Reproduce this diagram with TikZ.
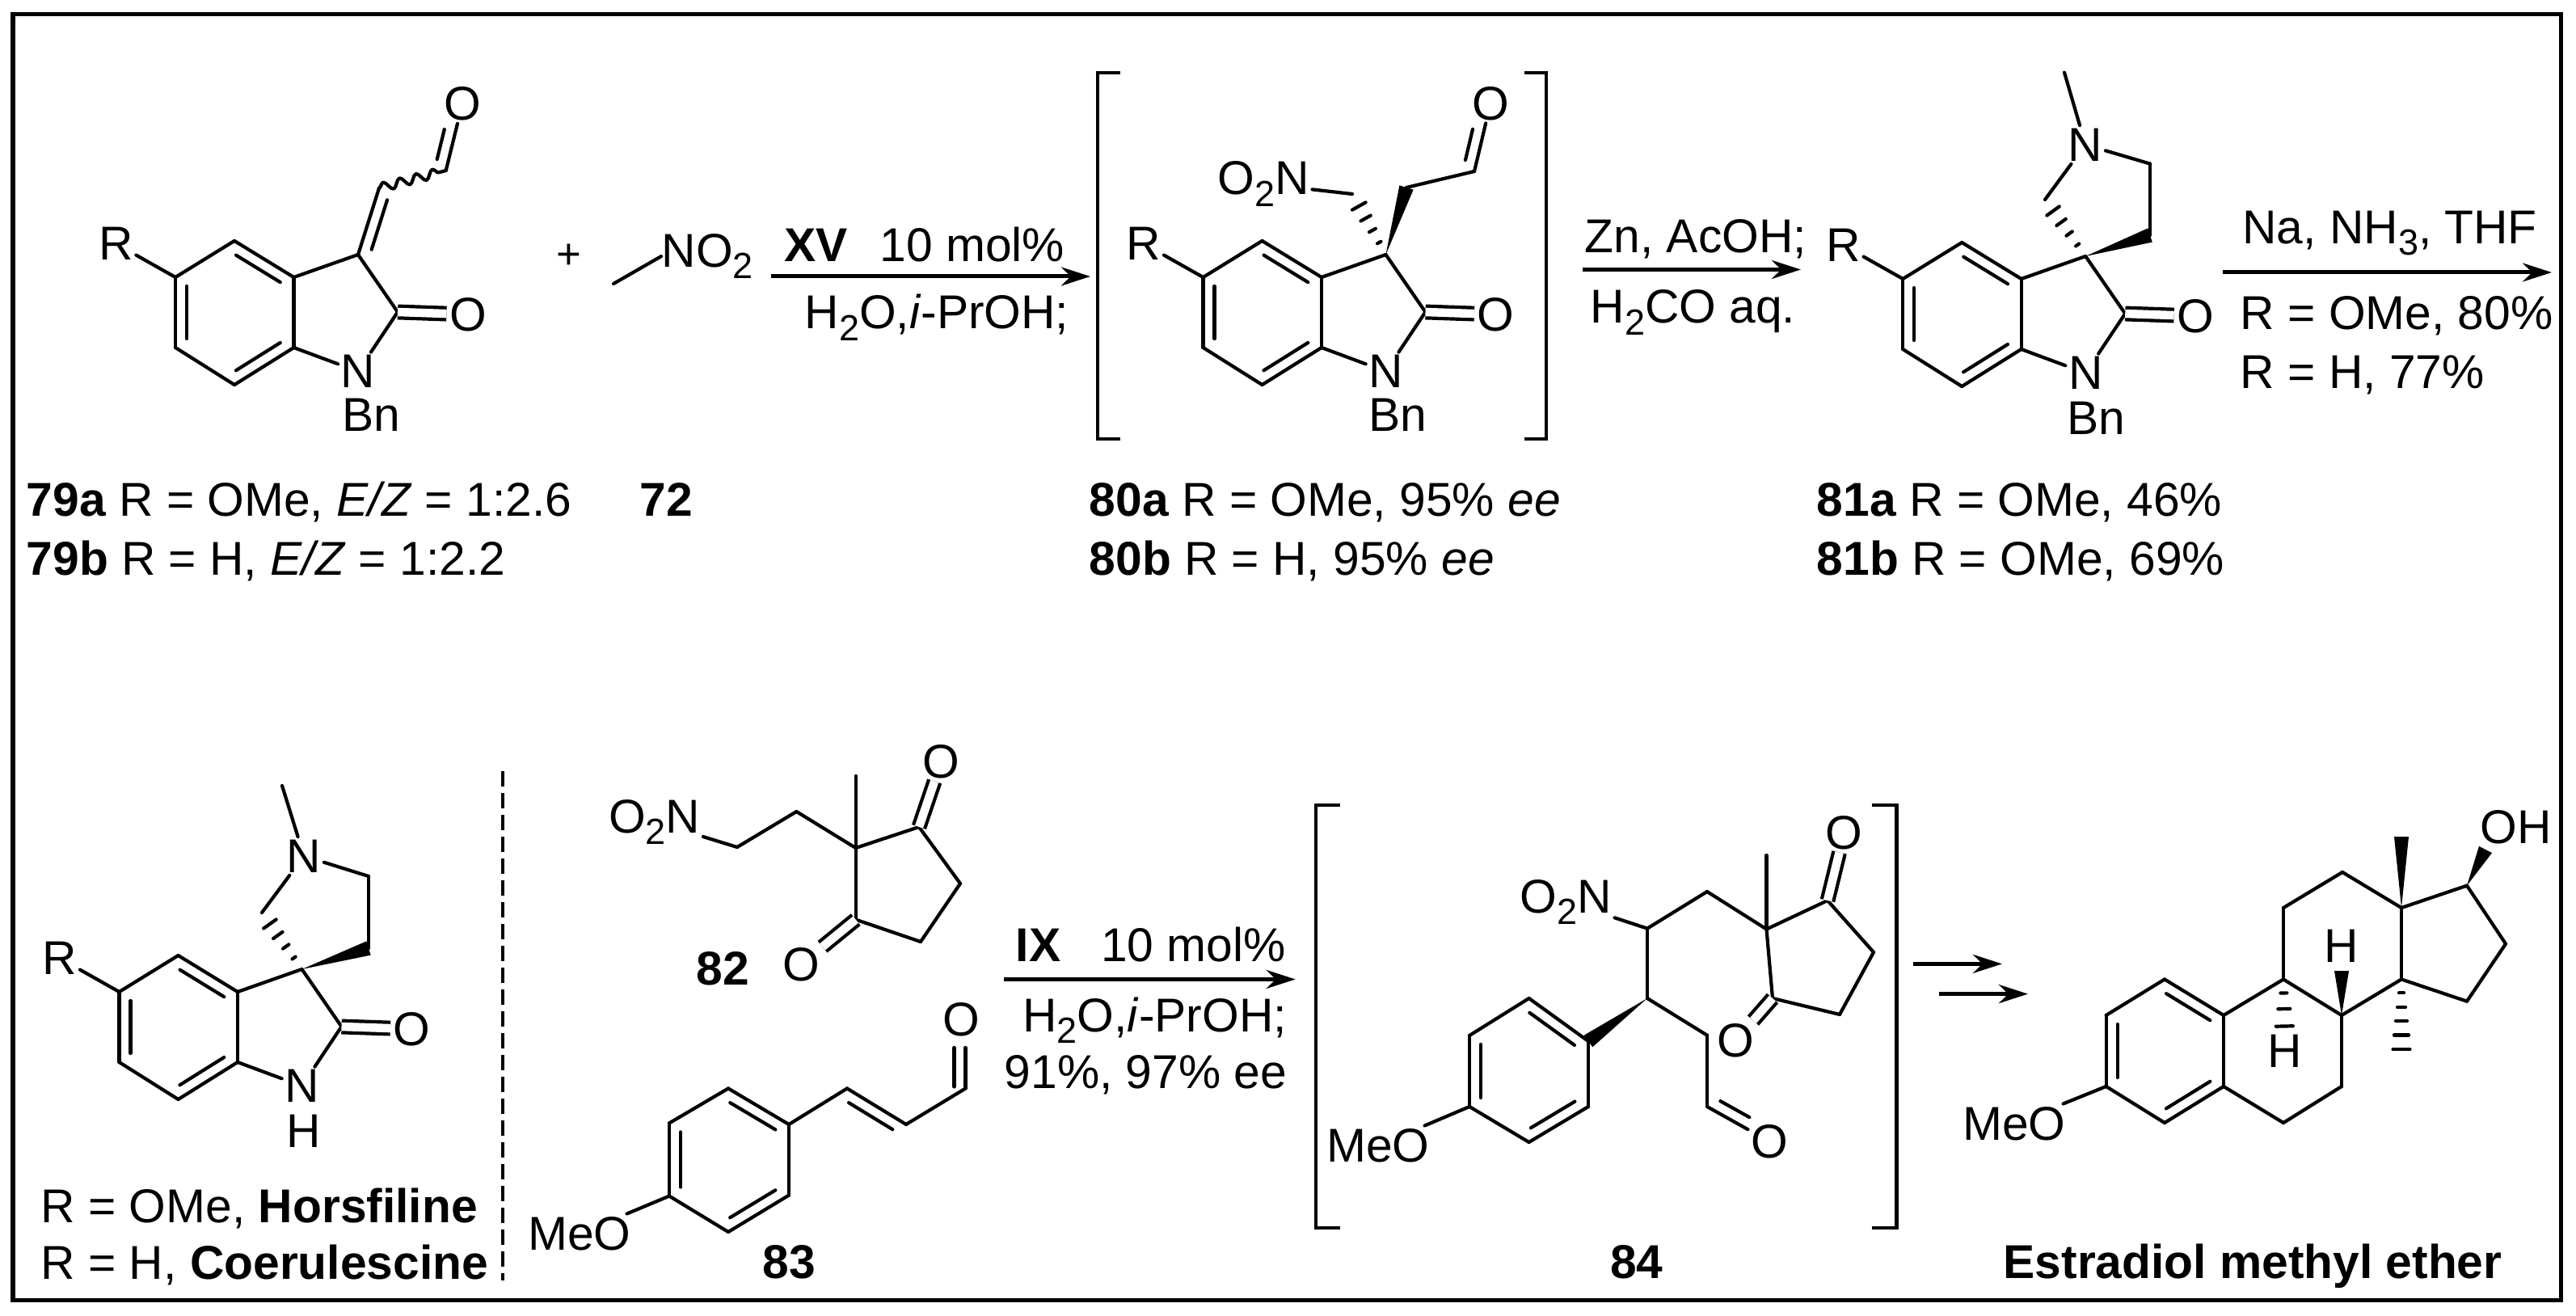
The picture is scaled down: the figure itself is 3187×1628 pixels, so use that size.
\documentclass[tikz,border=0pt]{standalone}
\usepackage{fontspec}
\setmainfont{Liberation Sans}
\usetikzlibrary{arrows.meta,calc,decorations.pathmorphing}
\newcommand{\chemfont}{\fontsize{16.7}{20}\selectfont}
\newcommand{\sbs}[1]{\raisebox{-4pt}{\fontsize{12.8}{13}\selectfont #1}}
\newcommand{\bondgap}{0.14cm}
\newcommand{\wedgew}{0.09cm}
\tikzset{
  bond/.style={line width=0.042cm,line cap=round,line join=round},
  dbl/.style={bond,double,double distance=0.105cm,line cap=butt},
  innerbond/.style={bond,shorten <=0.11cm,shorten >=0.11cm},
  rxnarrow/.style={line width=0.05cm,-{Stealth[length=0.36cm,width=0.23cm]}},
  brk/.style={line width=0.047cm},
  lab/.style={anchor=base west,inner sep=0pt},
}
\newcommand{\innerbond}[3][]{%
  \draw[innerbond,#1] ($(#2)!\bondgap!90:(#3)$) to ($(#3)!\bondgap!-90:(#2)$);}
\newcommand{\wedgebond}[2]{%
  \fill ($(#2)!\wedgew!90:(#1)$) -- (#1) -- ($(#2)!\wedgew!-90:(#1)$) -- cycle;}
\newcommand{\hashbond}[3][0.2/0.025cm,0.4/0.045cm,0.6/0.07cm,0.8/0.095cm]{%
  \foreach \t/\w in {#1}{%
    \coordinate (hs) at ($(#2)!\t!(#3)$);
    \draw[bond] ($(hs)!\w!90:(#2)$) to ($(hs)!\w!-90:(#2)$);
  }}
\newcommand{\oxindole}[3]{%
  \begin{scope}[shift={(#2,#3)},name prefix=#1]
    \draw
      (143.5,301.5) node (r){R}
      (217,343) coordinate (c5)
      (290,298) coordinate (c4)
      (363.5,343) coordinate (c3a)
      (363.5,430) coordinate (c7a)
      (290,476) coordinate (c7)
      (217,430) coordinate (c6)
      (443,315) coordinate (c3)
      (492,386) coordinate (c2)
      (443,459.5) node (n1){N}
      (579,389) node (o2){O};
    \begin{scope}[bond]
      \draw (r) to (c5);
      \draw (c5) to (c6);
      \draw (c6) to (c7);
      \draw (c7) to (c7a);
      \draw (c7a) to (c3a);
      \draw (c3a) to (c4);
      \draw (c4) to (c5);
      \draw (c3a) to (c3);
      \draw (c3) to (c2);
      \draw (c2) to (n1);
      \draw (n1) to (c7a);
    \end{scope}
    \draw[dbl] (c2) to (o2);
    \innerbond{c5}{c6}
    \innerbond{c7}{c7a}
    \innerbond{c3a}{c4}
  \end{scope}}
\begin{document}
\begin{tikzpicture}[x=0.01cm,y=-0.01cm,every node/.style={inner sep=0.03cm,font=\chemfont}]
  \path[use as bounding box,fill=white] (0,0) rectangle (3187,1628);
  \draw[line width=0.05cm] (16,18) rectangle (3168,1608);
  % first row
  \oxindole{a-}{0}{0}
  \oxindole{b-}{1271.5}{0}
  \oxindole{c-}{2137.2}{2}
  \draw
    (459,513) node (a-bn){Bn}
    (469,232.7) coordinate (a-exo)
    (551.7,211) coordinate (a-cho)
    (572,128.4) node (a-o3){O}
    (704,317.5) node[font=\fontsize{15}{15}\selectfont] (plus){+}
    (759,351) coordinate (me72)
    (818,330.6) node[lab] (no72){NO\sbs{2}}
    (1729.6,513) node (b-bn){Bn}
    (1740,232) coordinate (b-ch2)
    (1824,212) coordinate (b-cho)
    (1844,128) node (b-o3){O}
    (1673,240) coordinate (b-ch2n)
    (1503,241) node[lab,inner sep=0.03cm] (b-no){O\sbs{2}N}
    (2593.6,517.6) node (c-bn){Bn}
    (2660,291) coordinate (c-c4)
    (2660,202.6) coordinate (c-c5)
    (2580,179) node (c-n2){N}
    (2554,89.7) coordinate (c-me)
    (2530,247) coordinate (c-c2);
  \begin{scope}[bond]
    \draw (a-c3) to (a-exo);
    \draw (a-cho) to (a-o3);
    \draw[decorate,decoration={snake,amplitude=0.055cm,segment length=0.21cm}] (a-exo) to (a-cho);
    \draw (me72) to (no72.west);
    \draw (b-ch2) to (b-cho);
    \draw (b-cho) to (b-o3);
    \draw (b-no) to (b-ch2n);
    \draw (c-c4) to (c-c5);
    \draw (c-c5) to (c-n2);
    \draw (c-n2) to (c-me);
    \draw (c-n2) to (c-c2);
  \end{scope}
  \innerbond{a-exo}{a-c3}
  \innerbond[shorten >=0.36cm]{a-cho}{a-o3}
  \innerbond[shorten >=0.36cm]{b-cho}{b-o3}
  \wedgebond{b-c3}{b-ch2}
  \hashbond{b-c3}{b-ch2n}
  \wedgebond{c-c3}{c-c4}
  \hashbond{c-c3}{c-c2}
  \draw[brk] (1386,90) -- (1358,90) -- (1358,543) -- (1386,543);
  \draw[brk] (1886,90) -- (1913,90) -- (1913,543) -- (1886,543);
  \draw
    (953.5,342) coordinate (a1s) (1349,342) coordinate (a1e)
    (1957.6,333.5) coordinate (a2s) (2228,333.5) coordinate (a2e)
    (2749.5,337) coordinate (a3s) (3157,337) coordinate (a3e);
  \draw[rxnarrow] (a1s) to (a1e);
  \draw[rxnarrow] (a2s) to (a2e);
  \draw[rxnarrow] (a3s) to (a3e);
  \draw
    (969.5,324) node[lab] (xv){\textbf{XV}}
    (1088,324) node[lab] (xvmol){10 mol\%}
    (995,407) node[lab] (xvsolv){H\sbs{2}O,\textit{i}-PrOH;}
    (1960,312.6) node[lab] (zn){Zn, AcOH;}
    (1967,400) node[lab] (hcho){H\sbs{2}CO aq.}
    (2773.8,301.5) node[lab] (na){Na, NH\sbs{3}, THF}
    (2771,408) node[lab] (yome){R = OMe, 80\%}
    (2771,481) node[lab] (yh){R = H, 77\%}
    (32,639) node[lab] (l79a){\textbf{79a} R = OMe, \textit{E/Z} = 1:2.6}
    (32,711.5) node[lab] (l79b){\textbf{79b} R = H, \textit{E/Z} = 1:2.2}
    (791,639) node[lab] (l72){\textbf{72}}
    (1347,639) node[lab] (l80a){\textbf{80a} R = OMe, 95\% \textit{ee}}
    (1347,711.5) node[lab] (l80b){\textbf{80b} R = H, 95\% \textit{ee}}
    (2247,639) node[lab] (l81a){\textbf{81a} R = OMe, 46\%}
    (2247,711.5) node[lab] (l81b){\textbf{81b} R = OMe, 69\%};
  % second row
  \oxindole{d-}{-69.5}{884}
  \draw
    (376,1399) node (d-h){H}
    (456,1173) coordinate (d-c4)
    (456,1084) coordinate (d-c5)
    (376,1059) node (d-n2){N}
    (349,972) coordinate (d-me)
    (324,1129) coordinate (d-c2)
    (50,1512) node[lab] (lhor){R = OMe, \textbf{Horsfiline}}
    (50,1582) node[lab] (lcoe){R = H, \textbf{Coerulescine}};
  \begin{scope}[bond]
    \draw (d-c4) to (d-c5);
    \draw (d-c5) to (d-n2);
    \draw (d-n2) to (d-me);
    \draw (d-n2) to (d-c2);
  \end{scope}
  \wedgebond{d-c3}{d-c4}
  \hashbond{d-c3}{d-c2}
  \draw[line width=0.035cm,dash pattern=on 0.19cm off 0.08cm] (622,954) -- (622,1583.6);
  % 82
  \draw
    (749.4,1030) node[lab,inner sep=0.03cm] (no82){O\sbs{2}N}
    (912,1048) coordinate (e1)
    (985.4,1004) coordinate (e2)
    (1058.7,1049) coordinate (e3)
    (1058.7,960) coordinate (eme)
    (1137,1023) coordinate (e4)
    (1164.5,942) node (eo4){O}
    (1188,1093) coordinate (e5)
    (1139,1165) coordinate (e6)
    (1058.7,1137.6) coordinate (e7)
    (991,1193) node (eo7){O};
  \begin{scope}[bond]
    \draw (no82) to (e1);
    \draw (e1) to (e2);
    \draw (e2) to (e3);
    \draw (e3) to (eme);
    \draw (e3) to (e4);
    \draw (e4) to (e5);
    \draw (e5) to (e6);
    \draw (e6) to (e7);
    \draw (e7) to (e3);
  \end{scope}
  \draw[dbl] (e4) to (eo4);
  \draw[dbl] (e7) to (eo7);
  % 83
  \draw
    (901,1346.5) coordinate (f1)
    (976,1391) coordinate (f2)
    (976,1478.6) coordinate (f3)
    (901,1524) coordinate (f4)
    (828,1479.6) coordinate (f5)
    (828,1389.4) coordinate (f6)
    (717,1526) node (fmeo){MeO}
    (1048,1346.5) coordinate (f7)
    (1121,1391) coordinate (f8)
    (1194.5,1346.5) coordinate (f9)
    (1194.5,1296) coordinate (fe)
    (1189.4,1261.6) node (fo){O};
  \begin{scope}[bond]
    \draw (f1) to (f2);
    \draw (f2) to (f3);
    \draw (f3) to (f4);
    \draw (f4) to (f5);
    \draw (f5) to (f6);
    \draw (f6) to (f1);
    \draw (fmeo) to (f5);
    \draw (f2) to (f7);
    \draw (f7) to (f8);
    \draw (f8) to (f9);
    \draw (f9) to (fe);
  \end{scope}
  \innerbond{f6}{f5}
  \innerbond{f4}{f3}
  \innerbond{f2}{f1}
  \innerbond{f8}{f7}
  \innerbond[shorten <=0.02cm,shorten >=0cm]{f9}{fe}
  \draw
    (861,1218) node[lab] (l82){\textbf{82}}
    (942.7,1581) node[lab] (l83){\textbf{83}}
    (1242,1211.5) coordinate (a4s) (1602.7,1211.5) coordinate (a4e);
  \draw[rxnarrow] (a4s) to (a4e);
  \draw
    (1256,1189) node[lab] (ix){\textbf{IX}}
    (1361.6,1189) node[lab] (ixmol){10 mol\%}
    (1264.7,1276) node[lab] (ixsolv){H\sbs{2}O,\textit{i}-PrOH;}
    (1242,1346.5) node[lab] (ixyield){91\%, 97\% ee};
  % 84
  \draw[brk] (1658,996) -- (1628,996) -- (1628,1519) -- (1658,1519);
  \draw[brk] (2315.7,996) -- (2346.7,996) -- (2346.7,1519) -- (2315.7,1519);
  \draw
    (1891.6,1235) coordinate (g1)
    (1965,1288) coordinate (g2)
    (1965,1369) coordinate (g3)
    (1891.6,1413) coordinate (g4)
    (1818,1369) coordinate (g5)
    (1818,1281) coordinate (g6)
    (1705,1417) node (gmeo){MeO}
    (2038,1235) coordinate (g7)
    (2038,1148.6) coordinate (g8)
    (1877,1129) node[lab,inner sep=0.03cm] (gno){O\sbs{2}N}
    (2112,1103) coordinate (g9)
    (2185.5,1149.5) coordinate (g10)
    (2185.5,1058) coordinate (gme)
    (2261,1114) coordinate (g11)
    (2281.6,1030) node (go11){O}
    (2318,1178) coordinate (g12)
    (2276,1255) coordinate (g13)
    (2193,1235) coordinate (g14)
    (2147.6,1287) node (go14){O}
    (2112,1280.7) coordinate (g15)
    (2112,1369) coordinate (g16)
    (2189,1412) node (go16){O};
  \begin{scope}[bond]
    \draw (g1) to (g2);
    \draw (g2) to (g3);
    \draw (g3) to (g4);
    \draw (g4) to (g5);
    \draw (g5) to (g6);
    \draw (g6) to (g1);
    \draw (gmeo) to (g5);
    \draw (g7) to (g8);
    \draw (gno) to (g8);
    \draw (g8) to (g9);
    \draw (g9) to (g10);
    \draw (g10) to (gme);
    \draw (g10) to (g11);
    \draw (g11) to (g12);
    \draw (g12) to (g13);
    \draw (g13) to (g14);
    \draw (g14) to (g10);
    \draw (g7) to (g15);
    \draw (g15) to (g16);
    \draw (g16) to (go16);
  \end{scope}
  \draw[dbl] (g11) to (go11);
  \draw[dbl] (g14) to (go14);
  \innerbond{g6}{g5}
  \innerbond{g4}{g3}
  \innerbond{g2}{g1}
  \innerbond[shorten >=0.36cm]{g16}{go16}
  \wedgebond{g7}{g2}
  \draw (1991.5,1581) node[lab] (l84){\textbf{84}};
  \draw
    (2367,1192.4) coordinate (a5s) (2477,1192.4) coordinate (a5e)
    (2399,1229.6) coordinate (a6s) (2509,1229.6) coordinate (a6e);
  \draw[rxnarrow] (a5s) to (a5e);
  \draw[rxnarrow] (a6s) to (a6e);
  % estradiol methyl ether
  \draw
    (2678,1211.5) coordinate (h1)
    (2751,1256) coordinate (h2)
    (2751,1344) coordinate (h3)
    (2678,1389) coordinate (h4)
    (2605.6,1344) coordinate (h5)
    (2605.6,1256) coordinate (h6)
    (2492,1390) node (hmeo){MeO}
    (2825,1211.5) coordinate (h7)
    (2897,1256) coordinate (h8)
    (2897,1344) coordinate (h9)
    (2825,1389) coordinate (h10)
    (2825,1123) coordinate (h11)
    (2898,1079) coordinate (h12)
    (2971,1123) coordinate (h13)
    (2971,1211.5) coordinate (h14)
    (3052,1095.6) coordinate (h15)
    (3100,1167.6) coordinate (h16)
    (3052,1238.7) coordinate (h17)
    (2971,1035) coordinate (hme)
    (2971,1300) coordinate (hme2)
    (3075,1051) coordinate (hoe)
    (3113,1023) node (hoh){OH}
    (2897,1170) node (hh1){H}
    (2897,1201) coordinate (hh1e)
    (2827,1300.7) node (hh2){H};
  \begin{scope}[bond]
    \draw (h1) to (h2);
    \draw (h2) to (h3);
    \draw (h3) to (h4);
    \draw (h4) to (h5);
    \draw (h5) to (h6);
    \draw (h6) to (h1);
    \draw (hmeo) to (h5);
    \draw (h2) to (h7);
    \draw (h7) to (h8);
    \draw (h8) to (h9);
    \draw (h9) to (h10);
    \draw (h10) to (h3);
    \draw (h7) to (h11);
    \draw (h11) to (h12);
    \draw (h12) to (h13);
    \draw (h13) to (h14);
    \draw (h14) to (h8);
    \draw (h13) to (h15);
    \draw (h15) to (h16);
    \draw (h16) to (h17);
    \draw (h17) to (h14);
  \end{scope}
  \innerbond{h6}{h5}
  \innerbond{h4}{h3}
  \innerbond{h2}{h1}
  \wedgebond{h13}{hme}
  \wedgebond{h15}{hoe}
  \wedgebond{h8}{hh1e}
  \hashbond[0.19/0.04cm,0.41/0.075cm,0.65/0.105cm]{h7}{hh2}
  \hashbond[0.19/0.03cm,0.39/0.05cm,0.58/0.07cm,0.78/0.09cm,0.98/0.105cm]{h14}{hme2}
  \draw (2478,1581) node[lab] (lest){\textbf{Estradiol methyl ether}};
\end{tikzpicture}
\end{document}
